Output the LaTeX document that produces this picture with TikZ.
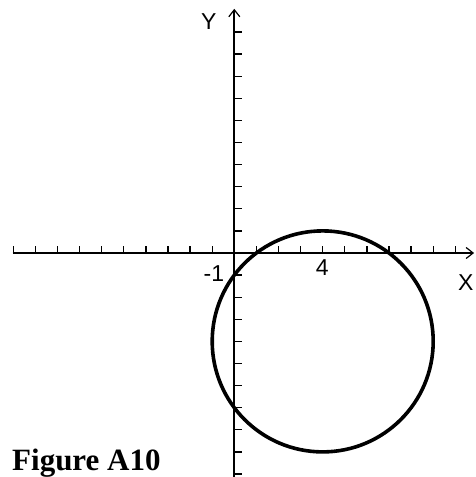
\documentclass[tikz,border=0pt]{standalone}
\usepackage{fontspec}
\setmainfont{Liberation Serif}
\newfontfamily\axfont{Liberation Sans}
\usetikzlibrary{arrows.meta}
\begin{document}
\begin{tikzpicture}[x=22.1pt,y=22.1pt,
  axisline/.style={line width=1.6pt},
  tickmark/.style={line width=1.3pt},
  curveline/.style={line width=3.6pt},
  lbl/.style={font=\axfont\fontsize{23}{23}\selectfont, inner sep=0pt},
  tip/.style={-{Straight Barb[length=7pt,width=11pt,line width=1.2pt]}}]
\useasboundingbox (-234.3pt,-224pt) rectangle (240.7pt,253pt);
\coordinate (xl) at (-10.03,0);
\coordinate (xr) at (10.85,0);
\coordinate (yb) at (0,-10.3);
\coordinate (yt) at (0,11.05);
\draw[axisline,tip] (xl) -- (xr);
\draw[axisline,tip] (yb) -- (yt);
\foreach \i in {-10,...,-1,1,2,...,10} {
  \draw[tickmark] (\i,0) -- (\i,0.32);
  \draw[tickmark] (0,\i) -- (0.36,\i);
}
\draw[curveline] (4,-4) circle (5);
\node[lbl] (lx) at (10.48,-1.36) {X};
\node[lbl] (ly) at (-1.15,10.45) {Y};
\node[lbl] (l4) at (3.98,-0.68) {4};
\node[lbl] (lm1) at (-0.92,-0.95) {-1};
\node[font=\bfseries\fontsize{31}{31}\selectfont, anchor=base west, inner sep=0pt] (cap) at (-222.3pt,-217pt) {Figure A10};
\end{tikzpicture}
\end{document}
